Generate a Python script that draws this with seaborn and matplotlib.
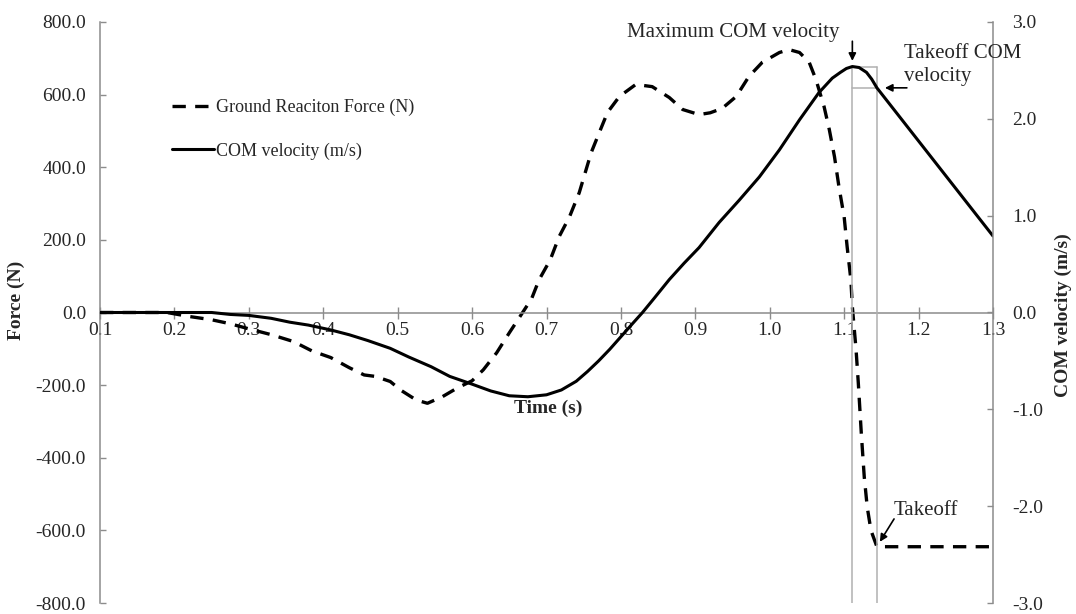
"""Ground reaction force and COM velocity during a jump (force-time trace)."""
import numpy as np
import pandas as pd
import seaborn as sns
import matplotlib.pyplot as plt

# force trace (N)
t_force = [0.10, 0.19, 0.22, 0.25, 0.275, 0.30, 0.33, 0.36, 0.385, 0.41, 0.435, 0.455,
           0.47, 0.49, 0.505, 0.525, 0.54, 0.56, 0.58, 0.60, 0.615, 0.633, 0.65, 0.666,
           0.68, 0.69, 0.705, 0.717, 0.731, 0.744, 0.752, 0.76, 0.771, 0.782, 0.798,
           0.82, 0.842, 0.865, 0.883, 0.905, 0.92, 0.936, 0.955, 0.972, 0.99, 1.013,
           1.026, 1.04, 1.053, 1.062, 1.073, 1.08, 1.087, 1.093, 1.10, 1.104, 1.109,
           1.111, 1.116, 1.119, 1.123, 1.127, 1.131, 1.136, 1.144, 1.20, 1.30]
force = [0, 0, -11, -20, -31, -45, -61, -80, -106, -124, -152, -172,
         -176, -190, -215, -241, -250, -232, -208, -188, -158, -111, -56, -6,
         38, 90, 145, 209, 264, 330, 385, 440, 496, 551, 595,
         628, 622, 592, 559, 545, 550, 562, 595, 650, 689, 716,
         724, 716, 689, 642, 567, 504, 429, 346, 263, 181, 90,
         16, -103, -194, -332, -453, -536, -600, -645, -645, -645]

# COM velocity (m/s)
t_vel = [0.10, 0.25, 0.275, 0.30, 0.33, 0.355, 0.38, 0.41, 0.435, 0.46, 0.49, 0.515,
         0.545, 0.57, 0.60, 0.625, 0.65, 0.675, 0.70, 0.72, 0.74, 0.755, 0.77, 0.785,
         0.80, 0.815, 0.829, 0.845, 0.865, 0.885, 0.905, 0.932, 0.959, 0.986, 1.013,
         1.04, 1.066, 1.084, 1.095, 1.103, 1.111, 1.12, 1.13, 1.137, 1.144, 1.30]
vel = [0, 0, -0.02, -0.03, -0.06, -0.10, -0.13, -0.18, -0.23, -0.29, -0.37, -0.46,
       -0.56, -0.66, -0.74, -0.81, -0.86, -0.87, -0.85, -0.80, -0.71, -0.61, -0.50, -0.38,
       -0.25, -0.12, 0.0, 0.15, 0.34, 0.51, 0.67, 0.93, 1.16, 1.40, 1.68,
       1.99, 2.27, 2.42, 2.48, 2.52, 2.54, 2.53, 2.48, 2.41, 2.32, 0.79]

df_f = pd.DataFrame({"Time": t_force, "Force": force})
df_v = pd.DataFrame({"Time": t_vel, "Velocity": vel})

sns.set_style("white")
plt.rcParams['font.family'] = ['Liberation Serif', 'DejaVu Serif']
plt.rcParams['font.size'] = 14
plt.rcParams['axes.unicode_minus'] = False
grey = '#8c8c8c'

fig = plt.figure(figsize=(10.76, 6.14), dpi=100)
ax = fig.add_axes([100 / 1076, 1 - 603 / 614, 893 / 1076, 581 / 614])
ax2 = ax.twinx()

sns.lineplot(data=df_f, x="Time", y="Force", ax=ax, color='black', lw=2.4,
             linestyle=(0, (4, 2.8)), label="Ground Reaciton Force (N)", legend=False)
sns.lineplot(data=df_v, x="Time", y="Velocity", ax=ax2, color='black', lw=2.2,
             label="COM velocity (m/s)", legend=False)
handles = [ax.lines[0], ax2.lines[0]]

# key points: max velocity and takeoff
i_max = int(np.argmax(vel))
t_max, v_max = t_vel[i_max], vel[i_max]
t_to = t_force[int(np.argmin(force))]
v_to = np.interp(t_to, t_vel, vel)
lc = '#b0b0b0'
for tx in (t_max, t_to):
    ax2.plot([tx, tx], [v_max, -3.0], color=lc, lw=1.1, zorder=1)
for vy in (v_max, v_to):
    ax2.plot([t_max, t_to], [vy, vy], color=lc, lw=1.1, zorder=1)

ax.set_xlim(0.1, 1.3)
ax.set_ylim(-800, 800)
ax2.set_ylim(-3, 3)
ax.set_xticks(np.arange(0.1, 1.31, 0.1))
ax.set_yticks(np.arange(-800, 801, 200))
ax2.set_yticks(np.arange(-3, 3.1, 1))
ax.xaxis.set_major_formatter('{x:.1f}')
ax.yaxis.set_major_formatter('{x:.1f}')
ax2.yaxis.set_major_formatter('{x:.1f}')

ax.spines['bottom'].set_position(('data', 0))
for s in ('top', 'right'):
    ax.spines[s].set_visible(False)
for s in ('top', 'left', 'bottom'):
    ax2.spines[s].set_visible(False)
for sp in (ax.spines['left'], ax.spines['bottom'], ax2.spines['right']):
    sp.set_color(grey)
    sp.set_linewidth(1.1)

ax.tick_params(axis='x', direction='inout', length=9, width=1, color=grey, pad=2,
               labelsize=14, bottom=True)
ax.tick_params(axis='y', direction='in', length=4, width=1, color=grey, pad=10,
               labelsize=14, left=True)
ax2.tick_params(axis='y', direction='in', length=4, width=1, color=grey, pad=14,
                labelsize=14, right=True)
ax.set_xlabel("")
ax.set_ylabel("")
ax2.set_ylabel("")
ax.grid(False)
ax2.grid(False)

fig.text(548 / 1076, 1 - 408 / 614, "Time (s)", ha='center', va='center',
         fontsize=14, fontweight='bold')
fig.text(16 / 1076, 1 - 300 / 614, "Force (N)", ha='center', va='center',
         rotation=90, fontsize=14, fontweight='bold')
fig.text(1063 / 1076, 1 - 315 / 614, "COM velocity (m/s)", ha='center', va='center',
         rotation=90, fontsize=14, fontweight='bold')

ax.legend(handles, ["Ground Reaciton Force (N)", "COM velocity (m/s)"],
          loc='upper left', bbox_to_anchor=(163 / 1076, 1 - 90 / 614),
          bbox_transform=fig.transFigure, frameon=False, fontsize=13,
          handlelength=2.35, handletextpad=0.1, labelspacing=1.45, borderpad=0)

arrow = dict(arrowstyle='-|>', color='black', lw=1.2, mutation_scale=11)
ax2.text(1.094, 2.89, "Maximum COM velocity", ha='right', va='center', fontsize=15)
ax2.annotate("", xy=(t_max, v_max + 0.03), xytext=(t_max, 2.83), arrowprops=arrow)
ax2.text(1.181, 2.56, "Takeoff COM\nvelocity", ha='left', va='center', fontsize=15,
         linespacing=1.3)
ax2.annotate("", xy=(t_to + 0.007, v_to), xytext=(1.188, v_to), arrowprops=arrow)
ax.text(1.166, -545, "Takeoff", ha='left', va='center', fontsize=15)
ax.annotate("", xy=(t_to + 0.002, -638), xytext=(1.169, -562), arrowprops=arrow)

fig.savefig("out.png", dpi=100)
